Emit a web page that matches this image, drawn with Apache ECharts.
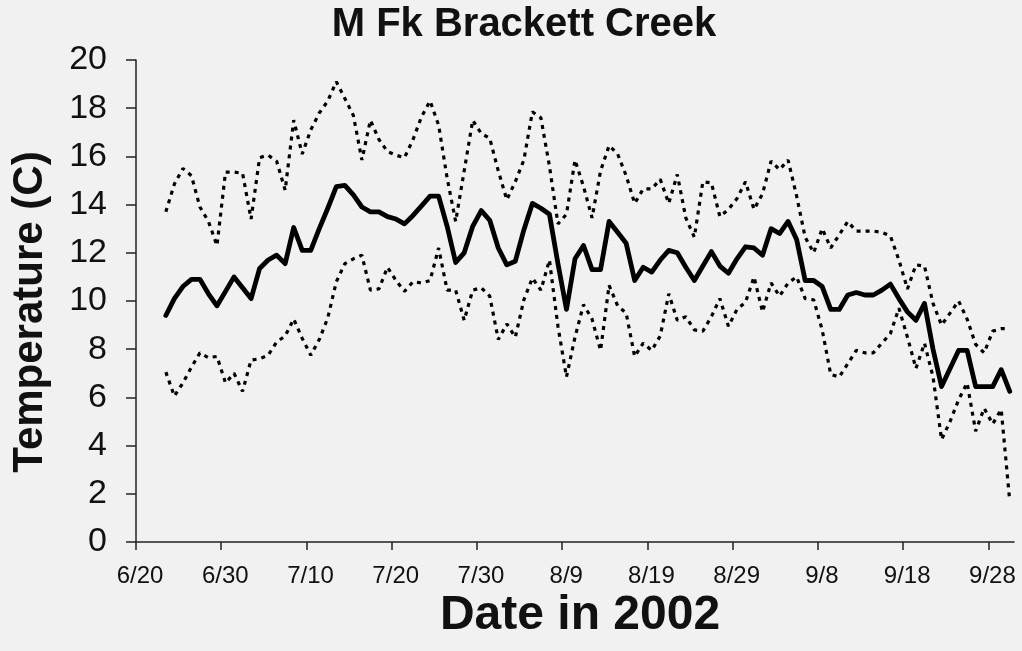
<!DOCTYPE html>
<html>
<head>
<meta charset="utf-8">
<title>M Fk Brackett Creek</title>
<script src="https://cdn.jsdelivr.net/npm/echarts@6/dist/echarts.min.js"></script>
<style>
  html, body { margin: 0; padding: 0; background: #f1f1f1; }
  #chart { width: 1022px; height: 651px; }
</style>
</head>
<body>
<div id="chart"></div>
<script>
// Daily stream temperatures, M Fk Brackett Creek, summer 2002 (deg C).
// One record per day starting at firstDay; each record is plotted at midday.
const firstDay = '2002-06-23';
const axisStart = '2002-06-20';
const axisEnd = '2002-10-01';
const tickLabels = ['6/20', '6/30', '7/10', '7/20', '7/30', '8/9', '8/19', '8/29', '9/8', '9/18', '9/28'];
const yTicks = [0, 2, 4, 6, 8, 10, 12, 14, 16, 18, 20];

const dailyMean = [
  9.4, 10.1, 10.6, 10.9, 10.9, 10.3, 9.8, 10.4, 11.0, 10.55,
  10.1, 11.35, 11.7, 11.9, 11.55, 13.05, 12.1, 12.1, 13.0, 13.85,
  14.75, 14.8, 14.4, 13.9, 13.7, 13.7, 13.5, 13.4, 13.2, 13.55,
  13.95, 14.35, 14.35, 13.1, 11.6, 12.0, 13.1, 13.75, 13.35, 12.2,
  11.5, 11.65, 12.95, 14.05, 13.85, 13.6, 11.55, 9.65, 11.75, 12.3,
  11.3, 11.3, 13.3, 12.85, 12.4, 10.85, 11.4, 11.2, 11.7, 12.1,
  12.0, 11.4, 10.85, 11.45, 12.05, 11.45, 11.15, 11.75, 12.25, 12.2,
  11.9, 13.0, 12.8, 13.3, 12.55, 10.85, 10.85, 10.6, 9.65, 9.65,
  10.25, 10.35, 10.25, 10.25, 10.45, 10.7, 10.1, 9.55, 9.2, 9.9,
  8.0, 6.45, 7.2, 7.95, 7.95, 6.45, 6.45, 6.45, 7.15, 6.25
];

const dailyMax = [
  13.7, 14.85, 15.5, 15.2, 13.9, 13.3, 12.3, 15.35, 15.35, 15.3,
  13.4, 15.95, 16.05, 15.8, 14.6, 17.5, 16.1, 17.1, 17.8, 18.3,
  19.1, 18.4, 17.7, 15.85, 17.5, 16.7, 16.2, 16.05, 15.95, 16.7,
  17.65, 18.3, 17.3, 15.1, 13.3, 15.4, 17.5, 16.95, 16.75, 15.4,
  14.2, 14.95, 15.85, 17.85, 17.6, 15.6, 13.2, 13.6, 15.85, 14.75,
  13.45, 15.4, 16.45, 16.1, 15.2, 14.05, 14.65, 14.65, 15.05, 14.05,
  15.25, 13.45, 12.65, 14.95, 14.9, 13.5, 13.8, 14.25, 14.95, 13.8,
  14.45, 15.8, 15.45, 15.85, 14.35, 12.65, 12.0, 13.0, 12.2, 12.75,
  13.3, 12.9, 12.9, 12.9, 12.85, 12.7, 11.7, 10.5, 11.5, 11.45,
  9.9, 9.0, 9.5, 10.0, 9.25, 8.2, 7.85, 8.75, 8.85, 8.85
];

const dailyMin = [
  7.05, 6.05, 6.6, 7.25, 7.85, 7.65, 7.7, 6.6, 7.0, 6.25,
  7.55, 7.6, 7.75, 8.3, 8.55, 9.25, 8.45, 7.75, 8.4, 9.3,
  10.8, 11.55, 11.75, 11.9, 10.45, 10.5, 11.4, 10.85, 10.4, 10.8,
  10.75, 10.85, 12.2, 10.45, 10.45, 9.2, 10.45, 10.55, 10.2, 8.4,
  9.05, 8.5, 10.05, 10.95, 10.45, 11.7, 8.95, 6.85, 8.5, 9.85,
  9.25, 7.95, 10.65, 9.8, 9.5, 7.7, 8.25, 7.95, 8.55, 10.3,
  9.2, 9.35, 8.8, 8.75, 9.35, 10.1, 8.95, 9.65, 9.95, 11.0,
  9.55, 10.75, 10.2, 10.75, 11.0, 10.1, 10.05, 8.8, 6.95, 6.85,
  7.4, 7.95, 7.85, 7.85, 8.25, 8.65, 9.7, 8.5, 7.2, 8.25,
  6.85, 4.25, 5.0, 5.9, 6.6, 4.6, 5.55, 4.9, 5.5, 1.7
];

const DAY_MS = 86400000;
const startMs = Date.parse(axisStart + 'T00:00:00Z');
const dayNumber = iso => (Date.parse(iso + 'T00:00:00Z') - startMs) / DAY_MS;
const firstOffset = dayNumber(firstDay);

// M/D tick label -> day number on the axis
const tickValues = tickLabels.map(label => {
  const [m, d] = label.split('/').map(Number);
  return (Date.UTC(2002, m - 1, d) - startMs) / DAY_MS;
});

const toPoints = values => values.map((v, i) => [firstOffset + i + 0.5, v]);

const formatDay = v => {
  const dt = new Date(startMs + v * DAY_MS);
  return (dt.getUTCMonth() + 1) + '/' + dt.getUTCDate();
};

const FONT = '"Liberation Sans", Arial, Helvetica, sans-serif';
const INK = '#111';
const DOTTED = { color: '#000', width: 3.2, type: [4, 5], cap: 'butt' };

const chart = echarts.init(document.getElementById('chart'));
chart.setOption({
  backgroundColor: '#f1f1f1',
  animation: false,
  textStyle: { fontFamily: FONT },
  grid: { left: 136, right: 8, top: 60, bottom: 109, containLabel: false },
  graphic: [
    {
      type: 'text', x: 524, y: 25,
      style: {
        text: 'M Fk Brackett Creek', fill: INK, font: 'bold 40px ' + FONT,
        textAlign: 'center', textVerticalAlign: 'middle'
      }
    },
    {
      type: 'text', x: 580, y: 616,
      style: {
        text: 'Date in 2002', fill: INK, font: 'bold 48px ' + FONT,
        textAlign: 'center', textVerticalAlign: 'middle'
      }
    },
    {
      type: 'text', x: 30, y: 312, rotation: Math.PI / 2,
      style: {
        text: 'Temperature (C)', fill: INK, font: 'bold 42px ' + FONT,
        textAlign: 'center', textVerticalAlign: 'middle'
      }
    }
  ],
  xAxis: {
    type: 'value',
    min: 0,
    max: dayNumber(axisEnd),
    interval: 10,
    splitLine: { show: false },
    axisLine: { show: true, onZero: false, lineStyle: { color: '#222', width: 1.5 } },
    axisTick: { show: true, inside: false, length: 8, customValues: tickValues, lineStyle: { color: '#222', width: 1.5 } },
    axisLabel: {
      customValues: tickValues,
      formatter: formatDay,
      color: INK, fontSize: 24, fontFamily: FONT, margin: 22,
      padding: [0, 0, 0, 8]
    }
  },
  yAxis: {
    type: 'value',
    min: 0,
    max: 20,
    interval: 2,
    splitLine: { show: false },
    axisLine: { show: true, lineStyle: { color: '#222', width: 1.5 } },
    axisTick: { show: true, inside: false, length: 10, lineStyle: { color: '#222', width: 1.5 } },
    axisLabel: {
      color: INK, fontSize: 34, fontFamily: FONT, margin: 29,
      formatter: v => (yTicks.includes(v) ? String(v) : '')
    }
  },
  series: [
    {
      name: 'Maximum', type: 'line', data: toPoints(dailyMax),
      showSymbol: false, silent: true, z: 2, lineStyle: DOTTED
    },
    {
      name: 'Minimum', type: 'line', data: toPoints(dailyMin),
      showSymbol: false, silent: true, z: 2, lineStyle: DOTTED
    },
    {
      name: 'Mean', type: 'line', data: toPoints(dailyMean),
      showSymbol: false, silent: true, z: 3,
      lineStyle: { color: '#000', width: 4.8, join: 'round', cap: 'round' }
    }
  ]
});
</script>
</body>
</html>
